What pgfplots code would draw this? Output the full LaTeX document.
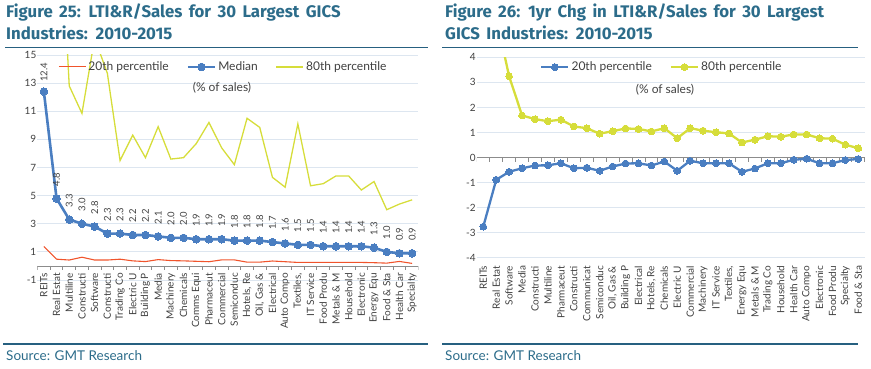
\documentclass[border=0pt]{standalone}
\usepackage{fontspec}
\setmainfont{Lato}
\newfontfamily\titlefont[WordSpace=1.6]{Fira Sans}
\usepackage{pgfplots}
\pgfplotsset{compat=1.18}
\definecolor{titlec}{RGB}{44,108,138}
\definecolor{rulec}{RGB}{38,96,128}
\definecolor{gridc}{RGB}{221,230,240}
\definecolor{bluec}{RGB}{74,126,193}
\definecolor{yelc}{RGB}{214,221,58}
\definecolor{redc}{RGB}{240,84,44}
\definecolor{txtc}{RGB}{64,64,64}
\definecolor{axc}{RGB}{140,140,140}

\pgfplotsset{
 gmt/.style={
   scale only axis,
   /pgf/number format/assume math mode=true,
   xmin=-0.5, xmax=29.5, xtick={0,...,29},
   axis line style={draw=none}, major tick length=0pt, tick style={draw=none},
   ymajorgrids, grid style={gridc, line width=0.9pt},
   ticklabel style={font=\fontsize{10}{12}\selectfont, text=txtc},
   xticklabel style={rotate=90, anchor=east, inner sep=1pt},
   yticklabel style={inner sep=1pt},
   legend cell align=left,
   legend columns=3,
   legend image code/.code={\draw[mark repeat=2,mark phase=2,##1] plot coordinates {(0pt,0pt)(13.5pt,0pt)(27pt,0pt)};},
   legend style={draw=none, fill=none, inner sep=0pt, anchor=west,
     font=\fontsize{12}{14}\selectfont, text=txtc,
     nodes={inner sep=2pt},
     /tikz/every even column/.append style={column sep=16pt}},
 }
}

\begin{document}
\begin{tikzpicture}
\useasboundingbox (0,0) rectangle (871pt,369pt);

% titles and rules
\tikzset{ttl/.style={anchor=base west, inner sep=0pt, text=titlec, font=\titlefont\fontsize{16.8}{20}\selectfont\bfseries}}
\node[ttl] at (6pt,351.7pt) {Figure 25: LTI\&R/Sales for 30 Largest GICS};
\node[ttl] at (6pt,329.7pt) {Industries: 2010-2015};
\node[ttl] at (445pt,351.7pt) {Figure 26: 1yr Chg in LTI\&R/Sales for 30 Largest};
\node[ttl] at (445pt,329.7pt) {GICS Industries: 2010-2015};
\draw[rulec, line width=1.3pt] (5pt,321.3pt) -- (428pt,321.3pt);
\draw[rulec, line width=1.3pt] (442pt,321.3pt) -- (858pt,321.3pt);
\draw[rulec, line width=1.3pt] (3pt,25pt) -- (428pt,25pt);
\draw[rulec, line width=1.3pt] (442pt,25pt) -- (858pt,25pt);
\node[anchor=base west, inner sep=0pt, text=titlec, font=\fontsize{13.5}{16}\selectfont] at (6pt,8.5pt) {Source: GMT Research};
\node[anchor=base west, inner sep=0pt, text=titlec, font=\fontsize{13.5}{16}\selectfont] at (445pt,8.5pt) {Source: GMT Research};

% ---------------- left chart ----------------
\begin{axis}[gmt,
  at={(37.5pt,89pt)}, anchor=south west,
  width=381pt, height=225pt,
  ymin=-1, ymax=15, ytick={-1,1,...,15},
  xticklabels={REITs,Real Estat,Multiline,Constructi,Software,Constructi,Trading Co,Electric U,Building P,Media,Machinery,Chemicals,Comms Equi,Pharmaceut,Commercial,Semiconduc,{Hotels, Re},{Oil, Gas \&},Electrical,Auto Compo,{Textiles,},IT Service,Food Produ,Metals \& M,Household,Electronic,Energy Equ,Food \& Sta,Health Car,Specialty},
  xticklabel shift=-8pt,
  legend style={at={(0.054,0.947)}},
]
\draw[axc, line width=0.8pt] (axis cs:-0.5,0) -- (axis cs:29.5,0);
\pgfplotsinvokeforeach{-0.5,0.5,...,29.5}{\draw[axc, line width=0.8pt] (axis cs:#1,0) -- ++(0pt,-4pt);}
\addplot[redc, line width=1.1pt] coordinates {
(0,1.38)(1,0.48)(2,0.42)(3,0.62)(4,0.42)(5,0.42)(6,0.48)(7,0.36)(8,0.31)(9,0.45)
(10,0.38)(11,0.36)(12,0.33)(13,0.30)(14,0.43)(15,0.43)(16,0.27)(17,0.27)(18,0.35)(19,0.30)
(20,0.25)(21,0.25)(22,0.25)(23,0.25)(24,0.25)(25,0.25)(26,0.23)(27,0.20)(28,0.32)(29,0.18)};
\addlegendentry{20th percentile}
\addplot[bluec, line width=2.6pt, mark=*, mark size=3.8pt, mark options={fill=bluec, draw=bluec, line width=0pt},
  nodes near coords={\pgfmathprintnumber[fixed,fixed zerofill,precision=1,assume math mode=true]{\pgfplotspointmeta}},
  every node near coord/.append style={font=\fontsize{9.5}{10}\selectfont, text=txtc, anchor=center, yshift=19pt, rotate=90, inner sep=0pt}] coordinates {
(0,12.4)(1,4.8)(2,3.3)(3,3.0)(4,2.8)(5,2.3)(6,2.3)(7,2.2)(8,2.2)(9,2.1)
(10,2.0)(11,2.0)(12,1.9)(13,1.9)(14,1.9)(15,1.8)(16,1.8)(17,1.8)(18,1.7)(19,1.6)
(20,1.5)(21,1.5)(22,1.4)(23,1.4)(24,1.4)(25,1.4)(26,1.3)(27,1.0)(28,0.9)(29,0.9)};
\addlegendentry{Median}
\addplot[yelc, line width=1.3pt] coordinates {
(0,30)(1,30)(2,12.8)(3,10.85)(4,16.2)(5,13.7)(6,7.5)(7,9.3)(8,7.7)(9,9.9)
(10,7.6)(11,7.7)(12,8.7)(13,10.2)(14,8.4)(15,7.2)(16,10.5)(17,9.85)(18,6.3)(19,5.6)
(20,10.1)(21,5.7)(22,5.85)(23,6.4)(24,6.4)(25,5.4)(26,6.0)(27,4.0)(28,4.4)(29,4.7)};
\addlegendentry{80th percentile}
\end{axis}
\node[text=txtc, font=\fontsize{12}{14}\selectfont] at (222pt,281pt) {(\% of sales)};

% ---------------- right chart ----------------
\begin{axis}[gmt,
  at={(476.8pt,111.3pt)}, anchor=south west,
  width=388pt, height=200.4pt,
  ymin=-4, ymax=4, ytick={-4,-3,...,4},
  clip marker paths=true,
  xticklabels={REITs,Real Estat,Software,Media,Constructi,Multiline,Pharmaceut,Constructi,Communicat,Semiconduc,{Oil, Gas \&},Building P,Electrical,{Hotels, Re},Chemicals,Electric U,Commercial,Machinery,IT Service,{Textiles,},Energy Equ,Metals \& M,Trading Co,Household,Health Car,Auto Compo,Electronic,Food Produ,Specialty,Food \& Sta},
  xticklabel shift=7pt,
  legend style={at={(0.163,0.951)}},
]
\draw[axc, line width=0.8pt] (axis cs:-0.5,0) -- (axis cs:29.5,0);
\pgfplotsinvokeforeach{-0.5,0.5,...,29.5}{\draw[axc, line width=0.8pt] (axis cs:#1,0) -- ++(0pt,-4pt);}
\addplot[bluec, line width=2.3pt, mark=*, mark size=3.4pt, mark options={fill=bluec, draw=bluec, line width=0pt}] coordinates {
(0,-2.76)(1,-0.89)(2,-0.57)(3,-0.43)(4,-0.32)(5,-0.31)(6,-0.23)(7,-0.43)(8,-0.41)(9,-0.53)
(10,-0.36)(11,-0.24)(12,-0.23)(13,-0.32)(14,-0.16)(15,-0.53)(16,-0.13)(17,-0.23)(18,-0.23)(19,-0.23)
(20,-0.57)(21,-0.44)(22,-0.23)(23,-0.23)(24,-0.09)(25,-0.05)(26,-0.23)(27,-0.23)(28,-0.10)(29,-0.06)};
\addlegendentry{20th percentile}
\addplot[yelc, line width=2.3pt, mark=*, mark size=3.4pt, mark options={fill=yelc, draw=yelc, line width=0pt}] coordinates {
(0,8.0)(1,5.6)(2,3.24)(3,1.68)(4,1.53)(5,1.45)(6,1.51)(7,1.24)(8,1.17)(9,0.95)
(10,1.05)(11,1.16)(12,1.14)(13,1.04)(14,1.17)(15,0.77)(16,1.17)(17,1.07)(18,1.01)(19,0.96)
(20,0.60)(21,0.71)(22,0.85)(23,0.83)(24,0.92)(25,0.92)(26,0.77)(27,0.75)(28,0.51)(29,0.37)};
\addlegendentry{80th percentile}
\end{axis}
\node[text=txtc, font=\fontsize{12}{14}\selectfont] at (665pt,279pt) {(\% of sales)};
\end{tikzpicture}
\end{document}
